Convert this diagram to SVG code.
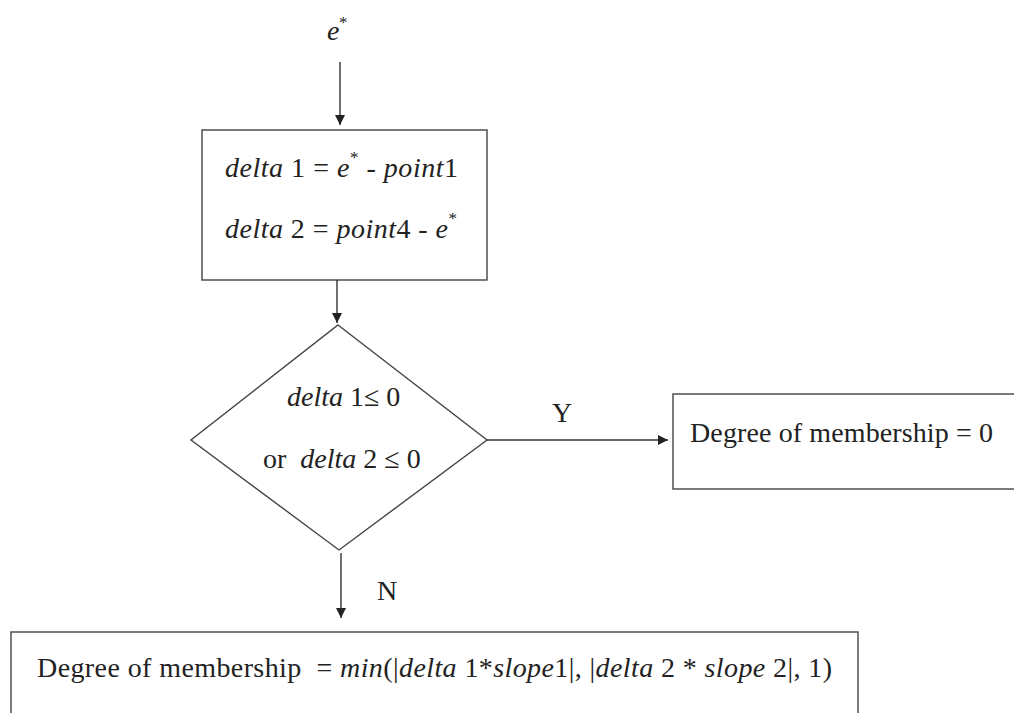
<svg xmlns="http://www.w3.org/2000/svg" width="1014" height="713" viewBox="0 0 1014 713">
<style>
text{font-family:"Liberation Serif","Times New Roman",serif;font-size:28px;fill:#222}
.i{font-style:italic}
.sup{font-size:17px}
.box{fill:#fff;stroke:#444;stroke-width:1.4}
.conn{stroke:#333;stroke-width:1.4;fill:none}
</style>
<defs>
<marker id="ah" viewBox="0 0 10 10" refX="10" refY="5" markerWidth="10" markerHeight="10" markerUnits="userSpaceOnUse" orient="auto">
<path d="M0,0 L10,5 L0,10 z" fill="#222"/>
</marker>
</defs>
<rect width="1014" height="713" fill="#fff"/>
<g id="input">
<text x="327" y="40"><tspan class="i">e</tspan><tspan class="sup" x="339" y="28">*</tspan></text>
</g>
<g id="compute">
<rect class="box" x="202" y="130" width="285" height="150"/>
<text x="225" y="177" textLength="233" lengthAdjust="spacing"><tspan class="i">delta</tspan> 1 = <tspan class="i">e</tspan><tspan class="sup" dy="-14">*</tspan><tspan dy="14"> - </tspan><tspan class="i">point</tspan>1</text>
<text x="225" y="238" textLength="232" lengthAdjust="spacing"><tspan class="i">delta</tspan> 2 = <tspan class="i">point</tspan>4 - <tspan class="i">e</tspan><tspan class="sup" dy="-14">*</tspan></text>
</g>
<g id="decision">
<polygon class="box" points="338,325 487,440 339,550 191,440"/>
<text x="287" y="406"><tspan class="i">delta</tspan> 1≤ 0</text>
<text x="263" y="468" xml:space="preserve">or  <tspan class="i">delta</tspan> 2 ≤ 0</text>
</g>
<g id="zero">
<rect class="box" x="673" y="394" width="360" height="95"/>
<text x="690" y="442" textLength="303" lengthAdjust="spacing">Degree of membership = 0</text>
</g>
<g id="membership">
<rect class="box" x="11" y="632" width="847" height="100"/>
<text x="37" y="677" textLength="795" lengthAdjust="spacing" xml:space="preserve">Degree of membership  = <tspan class="i">min</tspan>(|<tspan class="i">delta</tspan> 1*<tspan class="i">slope</tspan>1|, |<tspan class="i">delta</tspan> 2 * <tspan class="i">slope</tspan> 2|, 1)</text>
</g>
<g id="connectors">
<line class="conn" x1="340" y1="62" x2="340" y2="125" marker-end="url(#ah)"/>
<line class="conn" x1="337" y1="280" x2="337" y2="323" marker-end="url(#ah)"/>
<line class="conn" x1="487" y1="440" x2="668" y2="440" marker-end="url(#ah)"/>
<line class="conn" x1="341" y1="553" x2="341" y2="618" marker-end="url(#ah)"/>
<text x="562" y="422" text-anchor="middle">Y</text>
<text x="377" y="600">N</text>
</g>
</svg>
